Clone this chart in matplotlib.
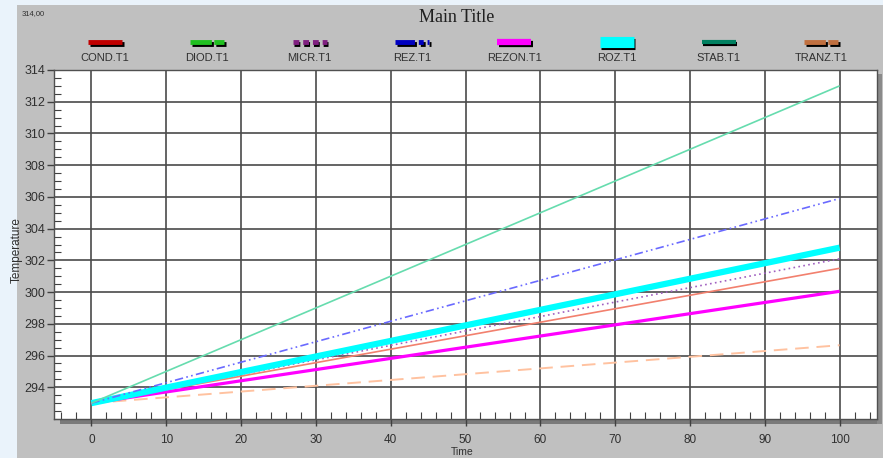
import numpy as np
import matplotlib
matplotlib.use("Agg")
import matplotlib.pyplot as plt
import matplotlib.patheffects as pe
from matplotlib.patches import Rectangle
from matplotlib.lines import Line2D

plt.rcParams['font.family'] = ['Liberation Sans', 'DejaVu Sans']

# DATA
names = ['COND.T1', 'DIOD.T1', 'MICR.T1', 'REZ.T1', 'REZON.T1', 'ROZ.T1', 'STAB.T1', 'TRANZ.T1']
t_start, t_end = 0, 100
temp_start = [293.0, 293.0, 293.0, 293.0, 293.0, 293.0, 293.0, 293.0]
temp_end = [301.5, 302.8, 302.1, 305.9, 300.05, 302.8, 313.0, 296.65]
x_ticks = list(range(0, 101, 10))
y_ticks = list(range(294, 315, 2))

# STYLES
legend_colors = ['#c00000', '#20c020', '#802080', '#0000c0', '#ff00ff', '#00ffff', '#008060', '#c07040']
line_colors = ['#f2806e', '#40c040', '#a060c0', '#6a6aff', '#ff00ff', '#00ffff', '#66dcae', '#ffc2a0']
line_widths = [1.2, 1.0, 1.2, 1.2, 2.3, 4.5, 1.2, 1.4]
line_styles = ['-', '-', (0, (1, 2)), (0, (5, 2, 1, 2, 1, 2)), '-', '-', '-', (0, (7, 4))]
draw_order = [1, 7, 0, 2, 4, 5, 3, 6]
leg_styles = ['-', (0, (4.4, 0.5)), (0, (1.2, 0.8)), (0, (4, 0.8, 1, 0.8, 1, 0.8)), '-', '-', '-', (0, (4.4, 0.5))]
leg_widths = [3.5, 3.5, 3.5, 3.5, 4.5, 8, 3, 3.5]

W, H = 883, 458
fig = plt.figure(figsize=(W / 100, H / 100), dpi=100)
fig.patch.set_facecolor('#eaf3fb')

def fx(px):
    return px / W

def fy(py):
    return 1 - py / H

# grey panel
fig.patches.append(Rectangle((fx(17), 0), 1 - fx(17), fy(5), transform=fig.transFigure,
                             facecolor='#c0c0c0', edgecolor='none', zorder=-5))
# 3d shadow of the plot frame
fig.patches.append(Rectangle((fx(60), fy(424)), fx(882) - fx(60), fy(419) - fy(424),
                             transform=fig.transFigure, facecolor='#7a7a7a', edgecolor='none', zorder=-4))
fig.patches.append(Rectangle((fx(877), fy(424)), fx(882) - fx(877), fy(74) - fy(424),
                             transform=fig.transFigure, facecolor='#8a8a8a', edgecolor='none', zorder=-4))

ax = fig.add_axes([fx(54), fy(419), fx(877) - fx(54), fy(70) - fy(419)])
ax.set_facecolor('white')

for i in draw_order:
    ax.plot([t_start, t_end], [temp_start[i], temp_end[i]], color=line_colors[i],
            lw=line_widths[i], ls=line_styles[i], solid_capstyle='butt', zorder=3)

ax.set_xlim(-5, 105)
ax.set_ylim(292, 314)
ax.set_xticks(x_ticks)
ax.set_xticklabels([str(v) for v in x_ticks], fontsize=8.5)
ax.set_yticks(y_ticks)
ax.set_yticklabels([str(v) for v in y_ticks], fontsize=9)
ax.set_xticks(np.arange(-4, 105, 2), minor=True)
ax.set_yticks(np.arange(292, 314.01, 0.5), minor=True)
ax.tick_params(axis='both', which='major', direction='out', length=5, width=1, color='#404040',
               pad=6, labelcolor='#303030')
ax.tick_params(axis='y', which='major', pad=1)
ax.tick_params(axis='both', which='minor', direction='in', length=5, width=0.8, color='#404040')
ax.grid(True, which='major', color='#4a4a4a', lw=1.2)
ax.set_axisbelow(True)
for s in ax.spines.values():
    s.set_color('#505050')
    s.set_linewidth(1)

fig.text(fx(17), fy(250), 'Temperature', rotation=90, ha='center', va='center', fontsize=8.5, color='#303030')
fig.text(fx(462), fy(452), 'Time', ha='center', va='center', fontsize=7.5, color='#303030')
fig.text(fx(22), fy(14), '314,00', ha='left', va='center', fontsize=5.5, color='#303030')
fig.text(fx(457), fy(17), 'Main Title', ha='center', va='center', fontsize=13,
         family=['Liberation Serif', 'DejaVu Serif'], color='#202020')

# legend row
for i, name in enumerate(names):
    cx = 105 + i * 102.3
    half = 17
    ln = Line2D([fx(cx - half), fx(cx + half)], [fy(42), fy(42)], transform=fig.transFigure,
                color=legend_colors[i], lw=leg_widths[i], ls=leg_styles[i], solid_capstyle='butt',
                dash_capstyle='butt',
                path_effects=[pe.SimpleLineShadow(offset=(1.2, -1.2), shadow_color='black', alpha=1),
                              pe.Normal()])
    fig.add_artist(ln)
    fig.text(fx(cx), fy(58), name, ha='center', va='center', fontsize=8, color='#303030')

fig.savefig('out.png', dpi=100, facecolor=fig.get_facecolor())
